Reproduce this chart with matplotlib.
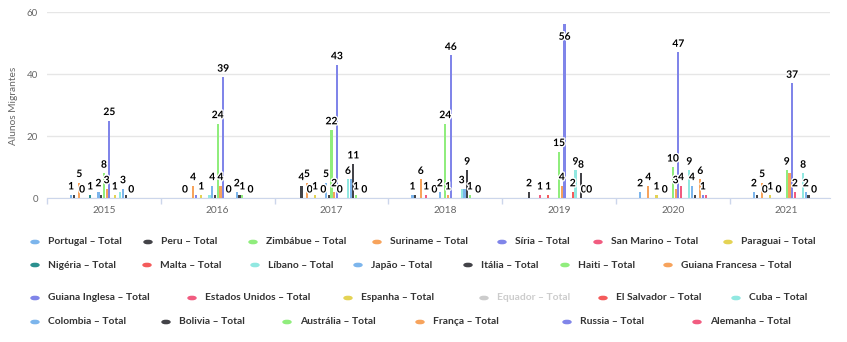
import matplotlib.pyplot as plt
import numpy as np
from matplotlib import patheffects
from matplotlib.transforms import Bbox

plt.rcParams["font.family"] = ["Lato", "DejaVu Sans"]

nan = np.nan

years = ["2015", "2016", "2017", "2018", "2019", "2020", "2021"]

series_names = [
    "Portugal", "Peru", "Zimbábue", "Suriname", "Síria", "San Marino", "Paraguai",
    "Nigéria", "Malta", "Líbano", "Japão", "Itália", "Haiti", "Guiana Francesa",
    "Guiana Inglesa", "Estados Unidos", "Espanha", "Equador", "El Salvador", "Cuba",
    "Colombia", "Bolivia", "Austrália", "França", "Russia", "Alemanha",
]
series_colors = [
    "#7cb5ec", "#434348", "#90ed7d", "#f7a35c", "#8085e9", "#f15c80", "#e4d354",
    "#2b908f", "#f45b5b", "#91e8e1", "#7cb5ec", "#434348", "#90ed7d", "#f7a35c",
    "#8085e9", "#f15c80", "#e4d354", "#2b908f", "#f45b5b", "#91e8e1",
    "#7cb5ec", "#434348", "#90ed7d", "#f7a35c", "#8085e9", "#f15c80",
]
hidden_series = ["Equador"]

# values per year, 2015..2021 (nan = no data)
portugal = [1, 0, nan, 1, nan, 2, 2]
peru = [1, nan, 4, 1, 2, nan, 1]
zimbabue = [nan, nan, nan, nan, nan, nan, nan]
suriname = [5, 4, 5, 6, nan, 4, 5]
siria = [0, 1, 0, nan, nan, nan, 0]
san_marino = [nan, nan, nan, 1, 1, nan, nan]
paraguai = [nan, 1, 1, nan, nan, 1, 1]
nigeria = [1, nan, nan, nan, nan, nan, nan]
malta = [nan, nan, nan, 0, 1, nan, nan]
libano = [nan, 1, 0, nan, nan, 0, 0]
japao = [2, 4, 5, 2, nan, nan, nan]
italia = [1, 1, 1, nan, nan, nan, nan]
haiti = [8, 24, 22, 24, 15, 10, 9]
guiana_francesa = [3, 4, 2, 1, 4, 3, 8]
guiana_inglesa = [25, 39, 43, 46, 56, 47, 37]
estados_unidos = [nan, nan, 0, nan, nan, 4, 2]
espanha = [1, 0, nan, nan, nan, nan, nan]
equador = [nan, nan, nan, nan, nan, nan, nan]
el_salvador = [nan, nan, nan, nan, 2, nan, nan]
cuba = [2, nan, 6, 3, 9, 9, 8]
colombia = [3, 2, 6, 3, nan, 4, 2]
bolivia = [1, 1, 11, 9, 8, 1, 1]
australia = [nan, 1, 1, 1, 0, nan, nan]
franca = [0, nan, nan, nan, nan, 6, 0]
russia = [nan, nan, nan, nan, 0, 1, nan]
alemanha = [nan, 0, 0, 0, nan, 1, nan]

all_values = [
    portugal, peru, zimbabue, suriname, siria, san_marino, paraguai,
    nigeria, malta, libano, japao, italia, haiti, guiana_francesa,
    guiana_inglesa, estados_unidos, espanha, equador, el_salvador, cuba,
    colombia, bolivia, australia, franca, russia, alemanha,
]

W, H = 847, 342
fig = plt.figure(figsize=(W / 100, H / 100), dpi=100)
ax = fig.add_axes([47 / W, 1 - 198 / H, (830 - 47) / W, (198 - 12) / H])

y_max = 60
visible = [i for i, name in enumerate(series_names) if name not in hidden_series]
n_vis = len(visible)
group_width = 0.6
slot = group_width / n_vis
x_base = np.arange(len(years))

labels = []
for k, i in enumerate(visible):
    vals = np.array(all_values[i], dtype=float)
    xs = x_base + (k - (n_vis - 1) / 2) * slot
    ok = ~np.isnan(vals)
    ax.bar(xs[ok], vals[ok], width=slot * 0.8, color=series_colors[i], linewidth=0, zorder=3)
    for x, v in zip(xs[ok], vals[ok]):
        # labels that would stick out of the top go inside the bar
        if v > y_max - 5:
            offset, va = (0, -6), "top"
        else:
            offset, va = (0, 2.5), "bottom"
        t = ax.annotate(
            f"{int(v)}", (x, v), xytext=offset, textcoords="offset points",
            ha="center", va=va, fontsize=7.4, fontweight="bold", color="black",
            zorder=5,
        )
        t.set_path_effects([patheffects.withStroke(linewidth=2, foreground="white")])
        labels.append((v, k, t))

ax.set_xlim(-0.5, -0.5 + (830 - 47) / 113.8)
ax.set_ylim(0, y_max)
ax.set_yticks([0, 20, 40, 60])
ax.tick_params(axis="y", length=0, pad=6.5, labelsize=7, labelcolor="#666666")
ax.set_xticks(x_base)
ax.set_xticklabels(years)
ax.tick_params(axis="x", length=0, pad=5.5, labelsize=7.3, labelcolor="#666666")
ax.set_xticks(np.arange(len(years)) - 0.5, minor=True)
ax.tick_params(axis="x", which="minor", length=4, width=1, color="#ccd6eb")
ax.grid(axis="y", color="#e6e6e6", linewidth=1, zorder=0)
for side in ["top", "right", "left"]:
    ax.spines[side].set_visible(False)
ax.spines["bottom"].set_color("#ccd6eb")
ax.set_axisbelow(True)

fig.text(13 / W, 1 - 106 / H, "Alunos Migrantes", rotation=90, ha="center", va="center",
         fontsize=7.3, color="#666666")

# hide overlapping data labels, tallest bars first (like highcharts does)
fig.canvas.draw()
renderer = fig.canvas.get_renderer()
kept = []
for v, k, t in sorted(labels, key=lambda item: (-item[0], item[1])):
    ext = t.get_window_extent(renderer)
    w = ext.width * 0.9
    bb = Bbox.from_bounds(ext.x0 + (ext.width - w) / 2, ext.y0, w, 14)
    if any(bb.overlaps(other) for other in kept):
        t.set_visible(False)
    else:
        kept.append(bb)

# legend laid out like the original
legend_rows = [
    (242, [("Portugal", 35), ("Peru", 148), ("Zimbábue", 253), ("Suriname", 377),
           ("Síria", 502), ("San Marino", 598), ("Paraguai", 728)]),
    (265, [("Nigéria", 35), ("Malta", 147), ("Líbano", 255), ("Japão", 358),
           ("Itália", 468), ("Haiti", 565), ("Guiana Francesa", 668)]),
    (298, [("Guiana Inglesa", 35), ("Estados Unidos", 192), ("Espanha", 348),
           ("Equador", 484), ("El Salvador", 603), ("Cuba", 736)]),
    (322, [("Colombia", 35), ("Bolivia", 166), ("Austrália", 287), ("França", 420),
           ("Russia", 567), ("Alemanha", 697)]),
]
for y, items in legend_rows:
    for name, x in items:
        idx = series_names.index(name)
        off = name in hidden_series
        mcol = "#cccccc" if off else series_colors[idx]
        tcol = "#cccccc" if off else "#333333"
        fig.patches.append(plt.Circle((x / W, 1 - y / H), 4 / W, transform=fig.transFigure,
                                      color=mcol, figure=fig))
        fig.text((x + 13) / W, 1 - y / H, f"{name} – Total", ha="left", va="center",
                 fontsize=7.4, fontweight="bold", color=tcol)

fig.savefig("out.png", dpi=100)
